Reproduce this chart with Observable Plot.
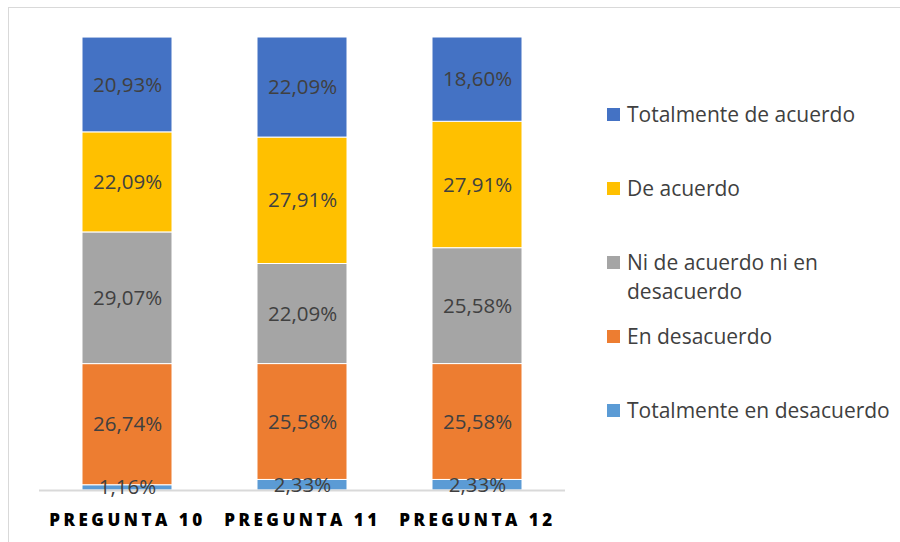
<!DOCTYPE html>
<html>
<head>
<meta charset="utf-8">
<script src="https://cdn.jsdelivr.net/npm/d3@7"></script>
<script src="https://cdn.jsdelivr.net/npm/@observablehq/plot@0.6"></script>
<style>
  html, body { margin: 0; padding: 0; background: #fff; }
  #wrap { position: relative; width: 900px; height: 542px; overflow: hidden; font-family: "Open Sans", sans-serif; }
  #frame { position: absolute; left: 8px; top: 7px; width: 900px; height: 600px; border-left: 1px solid #d9d9d9; border-top: 1px solid #d9d9d9; }
  #chart { position: absolute; left: 0; top: 0; }
  #chart g[aria-label="x-axis tick label"] text { font-size: 17px !important; font-weight: 800 !important; fill: #000 !important; letter-spacing: 3.5px; }
  #legend { position: absolute; left: 607px; top: 100px; }
  .item { position: relative; height: 74px; }
  .sw { position: absolute; left: 0; top: 8px; width: 13px; height: 13px; }
  .lab { position: absolute; left: 20px; top: 0; font-size: 21px; line-height: 29px; color: #404040; white-space: nowrap; }
  .lab.wrap { white-space: normal; width: 240px; }
</style>
</head>
<body>
<div id="wrap">
  <div id="frame"></div>
  <div id="chart"></div>
  <div id="legend"></div>
</div>
<script>
// Categories (bars)
const preguntas = ["PREGUNTA 10", "PREGUNTA 11", "PREGUNTA 12"];
// Response levels, bottom to top of the stack
const niveles = ["Totalmente en desacuerdo", "En desacuerdo", "Ni de acuerdo ni en desacuerdo", "De acuerdo", "Totalmente de acuerdo"];
const colores = ["#5B9BD5", "#ED7D31", "#A5A5A5", "#FFC000", "#4472C4"];
// Percentages per level, per pregunta
const totalmenteEnDesacuerdo = [1.16, 2.33, 2.33];
const enDesacuerdo = [26.74, 25.58, 25.58];
const niDeAcuerdo = [29.07, 22.09, 25.58];
const deAcuerdo = [22.09, 27.91, 27.91];
const totalmenteDeAcuerdo = [20.93, 22.09, 18.60];

const series = [totalmenteEnDesacuerdo, enDesacuerdo, niDeAcuerdo, deAcuerdo, totalmenteDeAcuerdo];
const data = [];
preguntas.forEach((p, i) => {
  niveles.forEach((n, j) => data.push({pregunta: p, nivel: n, valor: series[j][i]}));
});

const fmt = v => v.toFixed(2).replace(".", ",") + "%";

const chart = Plot.plot({
  width: 900,
  height: 542,
  marginLeft: 39,
  marginRight: 335,
  marginTop: 37,
  marginBottom: 52,
  style: {fontFamily: "'Open Sans', sans-serif", background: "transparent", overflow: "visible"},
  x: {domain: preguntas, paddingInner: 0.487, paddingOuter: 0.2435, label: null},
  y: {domain: [0, 100], axis: null},
  color: {domain: niveles, range: colores},
  marks: [
    Plot.barY(data, {x: "pregunta", y: "valor", fill: "nivel", order: niveles, stroke: "#ffffff", strokeWidth: 1}),
    Plot.ruleY([0], {stroke: "#d9d9d9", strokeWidth: 2}),
    Plot.text(data, Plot.stackY({x: "pregunta", y: "valor", order: niveles, z: "nivel", text: d => fmt(d.valor), fill: "#404040", fontSize: 20.5})),
    Plot.axisX({tickSize: 0, tickPadding: 23, label: null})
  ]
});
document.getElementById("chart").appendChild(chart);

// Legend, top to bottom
const legend = document.getElementById("legend");
niveles.slice().reverse().forEach((n, k) => {
  const c = colores[niveles.length - 1 - k];
  const item = document.createElement("div");
  item.className = "item";
  const sw = document.createElement("div");
  sw.className = "sw";
  sw.style.background = c;
  const lab = document.createElement("div");
  lab.className = "lab" + (n.startsWith("Ni ") ? " wrap" : "");
  lab.textContent = n;
  item.appendChild(sw);
  item.appendChild(lab);
  legend.appendChild(item);
});
</script>
</body>
</html>
